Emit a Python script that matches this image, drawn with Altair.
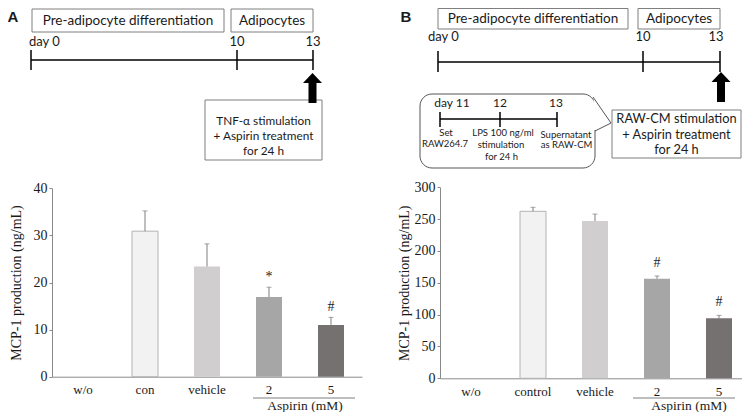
import altair as alt
import pandas as pd

# ---------------- data ----------------
cats_A = ["w/o", "con", "vehicle", "2", "5"]
mcp1_A = [0.0, 30.9, 23.4, 16.9, 11.0]
sd_A = [0.0, 4.3, 4.8, 2.1, 1.6]
sig_A = ["", "", "", "*", "#"]
ticks_A = [0, 10, 20, 30, 40]

cats_B = ["w/o", "control", "vehicle", "2", "5"]
mcp1_B = [0.0, 262.3, 246.9, 156.5, 94.2]
sd_B = [0.0, 6.3, 11.0, 4.2, 4.7]
sig_B = ["", "", "", "#", "#"]
ticks_B = [0, 50, 100, 150, 200, 250, 300]

y_title = "MCP-1 production (ng/mL)"
x_group = "Aspirin (mM)"

# ---------------- styles ----------------
bar_fills = ["#ffffff", "#f2f2f2", "#d0cece", "#a6a6a6", "#767171"]
bar_strokes = ["transparent", "#b3b3b3", "transparent", "transparent", "transparent"]
SERIF = "Liberation Serif"
SANS = "Lato"
AXIS_GRAY = "#8a8a8a"
BOX_GRAY = "#7f7f7f"

# ---------------- layout (page pixel coordinates) ----------------
W, H, M = 734, 404, 8


def pxs():
    return alt.Scale(domain=[M, W + M], range=[0, W], nice=False, zero=False)


def pys():
    return alt.Scale(domain=[M, H + M], range=[0, H], nice=False, zero=False)


boxes = pd.DataFrame([
    (32, 224, 9, 32), (231, 313, 9, 32), (205, 322, 100, 160),
    (438, 628, 8.5, 29), (638, 720, 8.5, 29), (612, 741, 110, 158),
], columns=["x", "x2", "y", "y2"])

bubble = pd.DataFrame([(420, 595, 94, 168)], columns=["x", "x2", "y", "y2"])
tail = pd.DataFrame([(593, 97, 0), (611, 123, 1), (595, 131, 2)], columns=["x", "y", "o"])

rules = pd.DataFrame([
    (31, 313, 60, 60, 1.5, "black"), (31, 31, 50, 70, 1.5, "black"),
    (237, 237, 50, 70, 1.5, "black"), (313, 313, 50, 70, 1.5, "black"),
    (438, 720, 62, 62, 1.5, "black"), (438, 438, 51, 72, 1.5, "black"),
    (643, 643, 51, 72, 1.5, "black"), (720, 720, 51, 72, 1.5, "black"),
    (595, 595, 100, 130, 3, "white"),
    (440, 557, 119, 119, 1.5, "black"), (440, 440, 112, 127, 1.5, "black"),
    (500, 500, 112, 127, 1.5, "black"), (557, 557, 112, 127, 1.5, "black"),
    (253, 355, 398, 398, 1, BOX_GRAY), (633, 735, 398, 398, 1, BOX_GRAY),
], columns=["x", "x2", "y", "y2", "w", "c"])

texts_c = pd.DataFrame([
    ("Pre-adipocyte differentiation", 128, 21, 13.5),
    ("Adipocytes", 272, 21, 13.5),
    ("10", 237, 42, 13), ("13", 313, 42, 13),
    ("TNF-α stimulation", 263.5, 121, 11.8),
    ("+ Aspirin treatment", 263.5, 136, 11.8),
    ("for 24 h", 263.5, 151, 11.8),
    ("Pre-adipocyte differentiation", 533, 19, 13.5),
    ("Adipocytes", 679, 19, 13.5),
    ("10", 643, 37, 13), ("13", 716, 37, 13),
    ("RAW-CM stimulation", 676.5, 119, 12.8),
    ("+ Aspirin treatment", 676.5, 135, 12.8),
    ("for 24 h", 676.5, 150, 12.8),
    ("day 11", 452, 103, 12), ("12", 500, 103, 12), ("13", 556, 103, 12),
    ("Set", 446, 133, 9.5), ("RAW264.7", 445, 143.5, 9.5),
    ("LPS 100 ng/ml", 503, 133, 9.5), ("stimulation", 501, 144.5, 9.5),
    ("for 24 h", 501.5, 156.5, 9.5),
    ("Supernatant", 566, 134.5, 9.5), ("as RAW-CM", 566.5, 145, 9.5),
], columns=["t", "x", "y", "s"])

texts_l = pd.DataFrame([("day 0", 29, 42, 13), ("day 0", 428, 37, 13)],
                       columns=["t", "x", "y", "s"])
texts_b = pd.DataFrame([("A", 13, 16.5, 15), ("B", 406, 16.5, 15)], columns=["t", "x", "y", "s"])
texts_s = pd.DataFrame([(x_group, 305, 406, 13.5), (x_group, 689, 406, 13.5)],
                       columns=["t", "x", "y", "s"])
arrows = pd.DataFrame([(312.5, 88), (721, 87)], columns=["x", "y"])
ARROW = "M0,-1L0.633,-0.333L0.267,-0.333L0.267,1L-0.267,1L-0.267,-0.333L-0.633,-0.333Z"


def X(f="x"):
    return alt.X(f"{f}:Q", scale=pxs(), axis=None)


def Y(f="y"):
    return alt.Y(f"{f}:Q", scale=pys(), axis=None)


box_layer = alt.Chart(boxes).mark_rect(fill="white", fillOpacity=0, stroke=BOX_GRAY, strokeWidth=1).encode(
    x=X(), x2="x2", y=Y(), y2="y2")
bubble_layer = alt.Chart(bubble).mark_rect(fill="white", stroke="#555555", strokeWidth=1, cornerRadius=12).encode(
    x=X(), x2="x2", y=Y(), y2="y2")
rule_layer = alt.Chart(rules).mark_rule().encode(
    x=X(), x2="x2", y=Y(), y2="y2",
    strokeWidth=alt.StrokeWidth("w:Q", scale=None),
    color=alt.Color("c:N", scale=None))
tail_layer = alt.Chart(tail).mark_line(color="#555555", strokeWidth=1).encode(
    x=X(), y=Y(), order="o:Q")


def text_layer(df, font, align, weight="normal"):
    return alt.Chart(df).mark_text(font=font, align=align, baseline="middle", fontWeight=weight,
                                   color="#1a1a1a").encode(
        x=X(), y=Y(), text="t:N", size=alt.Size("s:Q", scale=None))


arrow_layer = alt.Chart(arrows).mark_point(shape=ARROW, filled=True, color="black", opacity=1,
                                            size=900, strokeWidth=0).encode(x=X(), y=Y())

schematic_layers = [
    box_layer, bubble_layer, rule_layer, tail_layer,
    text_layer(texts_c, SANS, "center"),
    text_layer(texts_l, SANS, "left"),
    text_layer(texts_b, "Liberation Sans", "center", "bold"),
    text_layer(texts_s, SERIF, "center"),
    arrow_layer,
]


def bar_layers(cats, vals, sds, sigs, ticks, ymax, x0, x1, y0, y1, title_pad, sig_dy):
    df = pd.DataFrame({"cat": cats, "v": vals, "sd": sds, "sig": sigs})
    df["top"] = df["v"] + df["sd"]
    p = 1 - 26 / 62

    def xs():
        return alt.Scale(domain=cats, range=[x0 - M, x1 - M], paddingInner=p, paddingOuter=p / 2)

    def ys():
        return alt.Scale(domain=[0, ymax], range=[y0 - M, y1 - M], nice=False, zero=True)

    base = alt.Chart(df)
    bars = base.mark_bar(strokeWidth=1).encode(
        x=alt.X("cat:N", scale=xs(), sort=None, axis=alt.Axis(
            orient="bottom", offset=-(H - (y0 - M)), title=None, ticks=False,
            labelAngle=0, labelFont=SERIF, labelFontSize=13, labelColor="#1a1a1a",
            labelPadding=7, domainColor=AXIS_GRAY, grid=False)),
        y=alt.Y("v:Q", scale=ys(), axis=alt.Axis(
            orient="left", offset=-(x0 - M), values=ticks, tickSize=3, tickColor=AXIS_GRAY,
            domainColor=AXIS_GRAY, labelFont=SERIF, labelFontSize=14, labelColor="#1a1a1a",
            labelPadding=2, title=y_title, titleFont=SERIF, titleFontSize=14,
            titleFontWeight="normal", titleColor="#1a1a1a", titlePadding=title_pad, grid=False)),
        fill=alt.Fill("cat:N", scale=alt.Scale(domain=cats, range=bar_fills), legend=None),
        stroke=alt.Stroke("cat:N", scale=alt.Scale(domain=cats, range=bar_strokes), legend=None),
    )
    err_base = base.transform_filter("datum.sd > 0")
    err = err_base.mark_rule(color="#7f7f7f", strokeWidth=1).encode(
        x=alt.X("cat:N", scale=xs(), axis=None), y=alt.Y("v:Q", scale=ys(), axis=None), y2="top:Q")
    cap = err_base.mark_tick(color="#7f7f7f", thickness=1, size=5, orient="horizontal").encode(
        x=alt.X("cat:N", scale=xs(), axis=None), y=alt.Y("top:Q", scale=ys(), axis=None))
    sig = base.transform_filter("datum.sig != ''").mark_text(
        font=SERIF, fontSize=14, baseline="middle", dy=sig_dy, color="#1a1a1a").encode(
        x=alt.X("cat:N", scale=xs(), axis=None), y=alt.Y("top:Q", scale=ys(), axis=None), text="sig:N")
    return [bars, err, cap, sig]


layers_A = bar_layers(cats_A, mcp1_A, sd_A, sig_A, ticks_A, 40, 52, 362, 376.7, 188.3, 10, -10)
layers_B = bar_layers(cats_B, mcp1_B, sd_B, sig_B, ticks_B, 300, 440, 750, 378.3, 187.3, 2.5, -13)

chart = alt.layer(*schematic_layers, *layers_A, *layers_B).resolve_scale(
    x="independent", y="independent", fill="independent", stroke="independent",
    color="independent", size="independent", strokeWidth="independent"
).resolve_axis(x="independent", y="independent").properties(
    width=W, height=H, padding=0, autosize=alt.AutoSizeParams(type="none")
).configure_view(stroke=None)

chart.save("out.html", embed_options={"renderer": "svg", "actions": False})
